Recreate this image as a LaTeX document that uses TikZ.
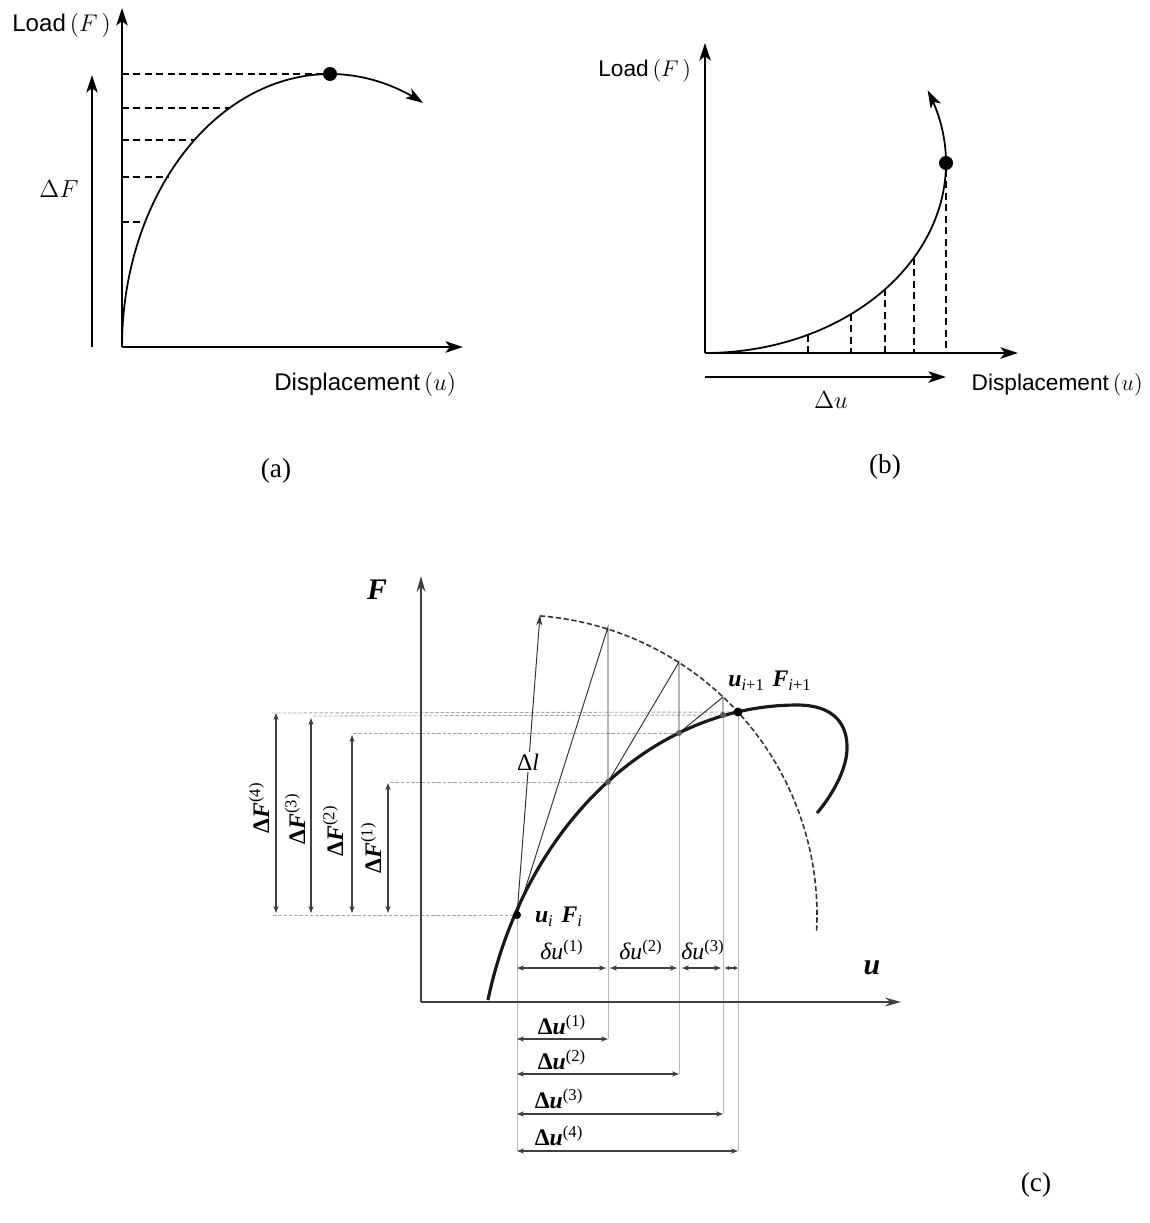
\RequirePackage{fix-cm}
\documentclass[tikz,border=0pt]{standalone}
\usepackage{fontspec}
\setmainfont{Liberation Serif}
\setsansfont{Liberation Sans}
\usetikzlibrary{arrows.meta}
\tikzset{
  axisA/.style={line width=1.1pt,-{Stealth[length=10pt,width=6.5pt,inset=2.5pt]}},
  curveA/.style={line width=1pt},
  dashA/.style={line width=0.6pt,dash pattern=on 4pt off 2.5pt},
  sansl/.style={font=\sffamily\fontsize{13.7}{16}\selectfont,inner sep=0pt},
  sansb/.style={font=\sffamily\fontsize{12.9}{15}\selectfont,inner sep=0pt},
  mathl/.style={font=\fontsize{14}{16}\selectfont,inner sep=0pt},
  capl/.style={font=\fontsize{15.5}{18}\selectfont,inner sep=0pt},
  axisC/.style={line width=1.1pt,draw=black!75,-{Stealth[length=9pt,width=5pt]}},
  mainC/.style={line width=1.8pt,draw=black!90},
  thinC/.style={line width=0.55pt,draw=black!80},
  extC/.style={line width=0.5pt,draw=black!28},
  hextC/.style={line width=0.5pt,draw=black!35,dash pattern=on 2pt off 1pt},
  dimC/.style={line width=0.6pt,draw=black!75,{Stealth[length=4pt,width=3pt]}-{Stealth[length=4pt,width=3pt]}},
  dimS/.style={line width=0.6pt,draw=black!75,{Stealth[length=2.5pt,width=2.5pt]}-{Stealth[length=2.5pt,width=2.5pt]}},
  labC/.style={font=\fontsize{13.5}{15}\selectfont,inner sep=0pt},
  bigC/.style={font=\fontsize{17}{19}\selectfont\bfseries\itshape,inner sep=0pt},
  dotC/.style={fill=black!65,draw=none},
}
\begin{document}
\begin{tikzpicture}[x=0.02cm,y=-0.02cm]
\useasboundingbox (0,0) rectangle (1149,1223);

% ================= panel (a) =================
\coordinate (Oa) at (122,347);
\coordinate (Ya) at (122,8);
\coordinate (Xa) at (463,347);
\coordinate (Pka) at (330,74);
\draw[axisA] (Oa) -- (Ya);
\draw[axisA] (Oa) -- (Xa);
\coordinate (dFb) at (92,347);
\coordinate (dFt) at (92,75);
\draw[axisA] (dFb) -- (dFt);
\node[mathl] (dFa) at (59,189) {$\Delta F$};
\node[sansl,anchor=base west] (loadA) at (12,32) {Load\,$(F\,)$};
\node[sansl,anchor=base west] (dispA) at (274,390) {Displacement\,$(u)$};
% dashed levels
\foreach \yy/\xx in {74/330,108/230,140/195,177/168,222/145}{
  \draw[dashA] (122,\yy) -- (\xx,\yy);
}
\draw[curveA,-{Stealth[length=10pt,width=6.5pt,inset=2.5pt]}] plot[domain=180:63.4,samples=80,smooth] ({330+208*cos(\x)},{347-273*sin(\x)});
\fill (Pka) circle[radius=7];
\node[capl] (capa) at (276,471) {(a)};

% ================= panel (b) =================
\coordinate (Ob) at (705,353);
\coordinate (Yb) at (705,43);
\coordinate (Xb) at (1018,353);
\coordinate (Pkb) at (946,163);
\draw[axisA] (Ob) -- (Yb);
\draw[axisA] (Ob) -- (Xb);
\foreach \xx/\yy in {808/335,851/314,885/289,914/258,946/170}{
  \draw[dashA] (\xx,\yy) -- (\xx,353);
}
\draw[curveA,-{Stealth[length=10pt,width=6.5pt,inset=2.5pt]}] plot[domain=0:112.5,samples=80,smooth] ({705+241*sin(\x)},{163+190*cos(\x)});
\fill (Pkb) circle[radius=7];
\coordinate (dUb) at (705,377);
\coordinate (dUe) at (946,377);
\draw[axisA] (dUb) -- (dUe);
\node[mathl] (dUl) at (831,400) {$\Delta u$};
\node[sansb,anchor=base west] (loadB) at (598,77) {Load\,$(F\,)$};
\node[sansb,anchor=base east] (dispB) at (1143,390) {Displacement\,$(u)$};
\node[capl] (capb) at (885,467) {(b)};

% ================= panel (c) =================
\coordinate (Oc) at (421,1002);
\coordinate (Yc) at (421,576);
\coordinate (Xc) at (901,1002);
\coordinate (Ui) at (517,915);
\coordinate (P1) at (608,782);
\coordinate (P2) at (679,733);
\coordinate (P3) at (723,715);
\coordinate (Un) at (738,712);
\coordinate (A0) at (540,615);
\coordinate (A1) at (608,627);
\coordinate (A2) at (679,662);
\coordinate (A3) at (723,697);

% grey extension lines (vertical)
\draw[extC] (Ui) -- (517,1151);
\draw[extC] (P1) -- (608,1039);
\draw[extC] (P2) -- (679,1074);
\draw[extC] (P3) -- (723,1114);
\draw[extC] (Un) -- (738,1151);
% grey extension lines (horizontal)
\draw[hextC] (272,713) -- (Un);
\draw[hextC] (313,716) -- (P3);
\draw[hextC] (353,733) -- (P2);
\draw[hextC] (390,782) -- (P1);
\draw[hextC] (273,915) -- (Ui);

% axes
\draw[axisC] (Oc) -- (Yc);
\draw[axisC] (Oc) -- (Xc);
\node[bigC] (Fl) at (377,590) {F};
\node[bigC] (ul) at (872,968) {u};

% dashed arc
\draw[line width=0.9pt,draw=black!80,dash pattern=on 3pt off 1.5pt] plot[domain=85.6:-3,samples=90,smooth] ({517+300*cos(\x)},{915-300*sin(\x)});

% secant / corrector lines
\draw[thinC] (Ui) -- (A1) -- (P1) -- (A2) -- (P2) -- (A3) -- (P3) -- (Un);
\draw[thinC,-{Stealth[length=6pt,width=3.5pt]}] (Ui) -- (A0);
\node[labC,fill=white,inner sep=1pt] (dl) at (528,762) {Δ\textit{l}};

% main curve
\draw[mainC] plot[domain=14.67:90,samples=70,smooth] ({797-319.5*cos(\x)},{1100-395*sin(\x)})
   .. controls (835,705) and (848,725) .. (847,750)
   .. controls (846,772) and (830,798) .. (817,813);

% dots
\fill[dotC] (P1) circle[radius=3];
\fill[dotC] (P2) circle[radius=3];
\fill[dotC] (P3) circle[radius=3];
\fill[black] (Ui) circle[radius=4];
\fill[black] (Un) circle[radius=4.5];

\node[labC] (uiFi) at (559,917) {\textbf{\textit{u}}\textsubscript{\textit{i}}\,\,\textbf{\textit{F}}\textsubscript{\textit{i}}};
\node[labC] (unFn) at (770,681) {\textbf{\textit{u}}\textsubscript{\textit{i}+1}\,\,\textbf{\textit{F}}\textsubscript{\textit{i}+1}};

% Delta F dimensions
\foreach \xx/\yt in {276/713,311/718,352/735,388/783}{
  \draw[dimC] (\xx,913) -- (\xx,\yt);
}
\node[labC,rotate=90] (dF4) at (259,808) {\textbf{Δ\textit{F}}\textsuperscript{(4)}};
\node[labC,rotate=90] (dF3) at (295,819) {\textbf{Δ\textit{F}}\textsuperscript{(3)}};
\node[labC,rotate=90] (dF2) at (333,831) {\textbf{Δ\textit{F}}\textsuperscript{(2)}};
\node[labC,rotate=90] (dF1) at (371,848) {\textbf{Δ\textit{F}}\textsuperscript{(1)}};

% delta u dimensions
\draw[dimC] (517,968) -- (606,968);
\draw[dimC] (610,968) -- (677,968);
\draw[dimC] (682,968) -- (721,968);
\draw[dimS] (725,968) -- (738,968);
\node[labC] (du1) at (562,950) {\textit{δu}\textsuperscript{(1)}};
\node[labC] (du2) at (641,950) {\textit{δu}\textsuperscript{(2)}};
\node[labC] (du3) at (703,950) {\textit{δu}\textsuperscript{(3)}};

% Delta u dimensions
\draw[dimC] (517,1039) -- (608,1039);
\draw[dimC] (517,1074) -- (679,1074);
\draw[dimC] (517,1114) -- (723,1114);
\draw[dimC] (517,1151) -- (738,1151);
\node[labC] (Du1) at (562,1025) {\textbf{Δ\textit{u}}\textsuperscript{(1)}};
\node[labC] (Du2) at (562,1060) {\textbf{Δ\textit{u}}\textsuperscript{(2)}};
\node[labC] (Du3) at (559,1099) {\textbf{Δ\textit{u}}\textsuperscript{(3)}};
\node[labC] (Du4) at (559,1136) {\textbf{Δ\textit{u}}\textsuperscript{(4)}};

\node[capl] (capc) at (1036,1185) {(c)};
\end{tikzpicture}
\end{document}
